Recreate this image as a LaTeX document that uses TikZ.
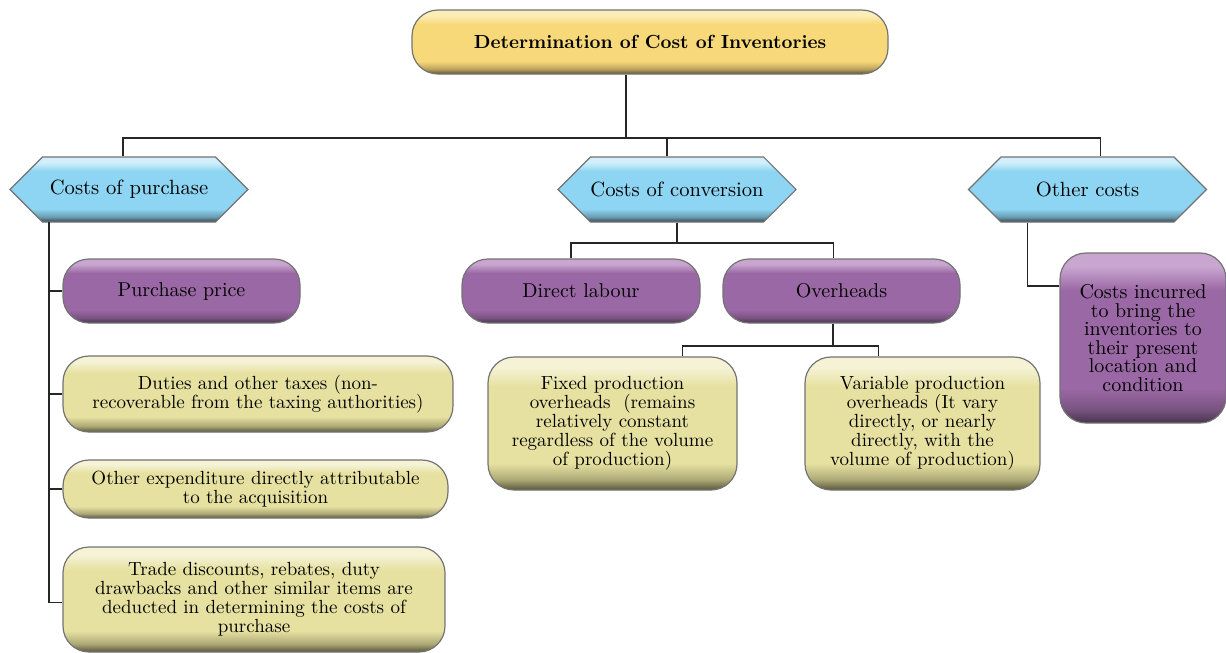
\documentclass[tikz,border=0pt]{standalone}
\usepackage{tikz}
\usetikzlibrary{shapes.symbols, positioning}

% colours of the glossy boxes
\definecolor{goldL}{HTML}{FCEEB8}
\definecolor{goldB}{HTML}{F7D97A}
\definecolor{goldD}{HTML}{5E5230}
\definecolor{skyL}{HTML}{D2F0FB}
\definecolor{skyB}{HTML}{8DD5F2}
\definecolor{skyD}{HTML}{36474F}
\definecolor{plumL}{HTML}{C9A6D0}
\definecolor{plumB}{HTML}{9A68A4}
\definecolor{plumD}{HTML}{47344B}
\definecolor{paleL}{HTML}{F5F2D6}
\definecolor{paleB}{HTML}{E6E1A0}
\definecolor{paleD}{HTML}{59563A}

\pgfdeclareverticalshading{goldgloss}{100bp}{color(0bp)=(goldD); color(25bp)=(goldD); color(29bp)=(goldB!60!goldD); color(35bp)=(goldB); color(64bp)=(goldB); color(71bp)=(goldL); color(75bp)=(goldL); color(100bp)=(goldL)}
\pgfdeclareverticalshading{skygloss}{100bp}{color(0bp)=(skyD); color(25bp)=(skyD); color(29bp)=(skyB!60!skyD); color(35bp)=(skyB); color(64bp)=(skyB); color(71bp)=(skyL); color(75bp)=(skyL); color(100bp)=(skyL)}
\pgfdeclareverticalshading{plumgloss}{100bp}{color(0bp)=(plumD); color(25bp)=(plumD); color(29bp)=(plumB!60!plumD); color(35bp)=(plumB); color(64bp)=(plumB); color(71bp)=(plumL); color(75bp)=(plumL); color(100bp)=(plumL)}
\pgfdeclareverticalshading{palegloss}{100bp}{color(0bp)=(paleD); color(25bp)=(paleD); color(29bp)=(paleB!60!paleD); color(35bp)=(paleB); color(64bp)=(paleB); color(71bp)=(paleL); color(75bp)=(paleL); color(100bp)=(paleL)}

\begin{document}
\begin{tikzpicture}[x=0.5pt, y=-0.5pt, % one unit = one pixel of the layout
    costbox/.style={draw=black!55, line width=0.6pt, rounded corners=13pt, align=center, inner sep=2pt},
    titlebox/.style={costbox, shading=goldgloss, font=\bfseries\fontsize{9.5}{9.5}\selectfont},
    hexbox/.style={signal, signal to=west and east, signal pointer angle=90, draw=black!55, line width=0.6pt,
        shading=skygloss, minimum width=119pt, minimum height=32.5pt, inner sep=0pt, font=\fontsize{10.3}{10.3}\selectfont},
    plumbox/.style={costbox, shading=plumgloss, font=\fontsize{10}{9.3}\selectfont},
    palebox/.style={costbox, shading=palegloss, font=\fontsize{9.5}{9.5}\selectfont},
    link/.style={draw=black!85, line width=0.6pt}]

    \useasboundingbox (0,0) rectangle (1226,653);

    % Title
    \node[titlebox, minimum width=238pt, minimum height=32pt] (title) at (650,42) {Determination of Cost of Inventories};

    % Three kinds of cost
    \node[hexbox] (purchase) at (129,189.5) {Costs of purchase};
    \node[hexbox] (conversion) at (677,189.5) {Costs of conversion};
    \node[hexbox] (other) at (1087.5,189.5) {Other costs};

    % Costs of purchase
    \node[plumbox, minimum width=118.5pt, minimum height=32pt] (price) at (181.5,291) {Purchase price};
    \node[palebox, minimum width=195pt, minimum height=38pt] (duties) at (258,394)
        {Duties and other taxes (non-\\recoverable from the taxing authorities)};
    \node[palebox, minimum width=192.5pt, minimum height=29pt] (expend) at (255.5,489)
        {Other expenditure directly attributable\\to the acquisition};
    \node[palebox, minimum width=191pt, minimum height=52.5pt] (trade) at (254,599.5)
        {Trade discounts, rebates, duty\\drawbacks and other similar items are\\deducted in determining the costs of\\purchase};

    % Costs of conversion
    \node[plumbox, minimum width=119pt, minimum height=32pt] (labour) at (581,291) {Direct labour};
    \node[plumbox, minimum width=118.5pt, minimum height=32pt] (overheads) at (841.5,291) {Overheads};
    \node[palebox, minimum width=124.5pt, minimum height=66.5pt] (fixed) at (612.5,423.5)
        {Fixed production\\overheads\ \ (remains\\relatively constant\\regardless of the volume\\of production)};
    \node[palebox, minimum width=117.5pt, minimum height=66.5pt] (variable) at (922.5,423.5)
        {Variable production\\overheads (It vary\\directly, or nearly\\directly, with the\\volume of production)};

    % Other costs
    \node[plumbox, minimum width=83pt, minimum height=85pt] (incurred) at (1143,338)
        {Costs incurred\\to bring the\\inventories to\\their present\\location and\\condition};

    % Connectors from the title
    \coordinate (hub) at (626,138);
    \draw[link] (title.south -| hub) -- (hub);
    \draw[link] ([xshift=-3pt]purchase.north) |- ([xshift=6.5pt]other.north |- hub) -- ([xshift=6.5pt]other.north);
    \draw[link] ([xshift=-5pt]conversion.north) -- ([xshift=-5pt]conversion.north |- hub);

    % Spine under costs of purchase
    \coordinate (spine) at (49,222);
    \draw[link] (spine) |- ([yshift=-1.5pt]trade.west);
    \foreach \item in {price, duties, expend} {
        \draw[link] (spine |- \item.west) -- (\item.west);
    }

    % Costs of conversion
    \coordinate (cbar) at (677,243);
    \draw[link] (conversion.south -| cbar) -- (cbar);
    \draw[link] ([xshift=-5pt]labour.north) |- (cbar) -| ([xshift=-4pt]overheads.north);
    \coordinate (obar) at (833,346);
    \draw[link] (overheads.south -| obar) -- (obar);
    \draw[link] ([xshift=35pt]fixed.north) |- (obar) -| ([xshift=-22pt]variable.north);

    % Other costs
    \draw[link] ([xshift=-30pt]other.south) |- ([yshift=26pt]incurred.west);

\end{tikzpicture}
\end{document}
